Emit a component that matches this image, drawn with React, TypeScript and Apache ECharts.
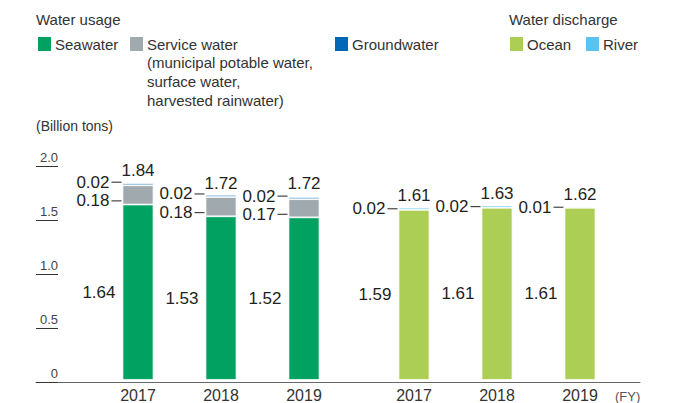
import React, { useEffect, useRef } from 'react';
import * as echarts from 'echarts';

const years = ['2017', '2018', '2019'];
const seawater = [1.64, 1.53, 1.52];
const serviceWater = [0.18, 0.18, 0.17];
const groundwater = [0.02, 0.02, 0.02];
const usageTotal = [1.84, 1.72, 1.72];
const ocean = [1.59, 1.61, 1.61];
const river = [0.02, 0.02, 0.01];
const dischargeTotal = [1.61, 1.63, 1.62];

const FONT = '"Liberation Sans", Arial, sans-serif';
const TXT = '#231F20';

const leaderLabel = (offsetY: number) => ({
  show: true,
  position: 'left' as const,
  distance: 1,
  offset: [0, offsetY],
  formatter: (p: any) => `{v|${p.value.toFixed(2)}}{g|}{l|}`,
  rich: {
    v: { fontSize: 17, color: TXT, fontFamily: FONT },
    g: { width: 2, height: 1 },
    l: { width: 10, height: 1, backgroundColor: '#231F20' },
  },
});

export default function App() {
  const ref = useRef<HTMLDivElement>(null);
  useEffect(() => {
    document.body.style.margin = '0';
    if (!ref.current) return;
    const chart = echarts.init(ref.current, undefined, { renderer: 'svg' });
    const hiddenY = (gi: number) => ({
      gridIndex: gi, type: 'value', min: 0, max: 2, show: false,
    });
    const catX = (gi: number) => ({
      gridIndex: gi,
      type: 'category',
      data: years,
      axisLine: { show: false },
      axisTick: { show: false },
      axisLabel: { fontSize: 16, color: '#333', margin: 7, fontFamily: FONT },
    });
    const mainLabel = {
      show: true, position: 'left' as const, distance: 7,
      fontSize: 17, color: TXT, fontFamily: FONT,
      formatter: (p: any) => p.value.toFixed(2),
    };
    const totalLabel = {
      show: true, position: 'top' as const, distance: 4,
      fontSize: 17, color: TXT, fontFamily: FONT,
      formatter: (p: any) => p.value.toFixed(2),
    };
    const border = { borderColor: '#ffffff', borderWidth: 0.8 };
    chart.setOption({
      animation: false,
      textStyle: { fontFamily: FONT },
      grid: [
        { left: 96.5, width: 249, top: 166, height: 216 },
        { left: 372.5, width: 249, top: 166, height: 216 },
        { left: 36, width: 604, top: 166, height: 216 },
      ],
      xAxis: [
        catX(0),
        catX(1),
        {
          gridIndex: 2, type: 'value', min: 0, max: 1,
          axisLine: { show: true, lineStyle: { color: '#666', width: 1 } },
          axisTick: { show: false }, axisLabel: { show: false }, splitLine: { show: false },
        },
      ],
      yAxis: [
        hiddenY(0),
        hiddenY(1),
        {
          gridIndex: 2, type: 'value', min: 0, max: 2, interval: 0.5,
          axisLine: { show: false },
          axisTick: { show: true, inside: true, length: 22, lineStyle: { color: '#333', width: 1 } },
          axisLabel: {
            inside: true, align: 'right', verticalAlign: 'bottom', margin: 22,
            fontSize: 13, color: '#444', padding: [0, 0, 2, 0], fontFamily: FONT,
            formatter: (v: number) => (v === 0 ? '0' : v.toFixed(1)),
          },
          splitLine: { show: false },
        },
      ],
      legend: [
        { data: ['Seawater'], left: 36, top: 35 },
        { data: ['Service water'], left: 128, top: 35 },
        { data: ['Groundwater'], left: 333, top: 35 },
        { data: ['Ocean'], left: 508, top: 35 },
        { data: ['River'], left: 584, top: 35 },
      ].map((l) => ({
        ...l, icon: 'rect', itemWidth: 15, itemHeight: 16, padding: 0,
        selectedMode: false,
        textStyle: { fontSize: 15, color: '#333', fontFamily: FONT, padding: [0, 0, 0, -2] },
      })),
      graphic: [
        { type: 'text', left: 36, top: 12, style: { text: 'Water usage', fontSize: 15, fill: '#333', fontFamily: FONT } },
        { type: 'text', left: 509, top: 12, style: { text: 'Water discharge', fontSize: 15, fill: '#333', fontFamily: FONT } },
        {
          type: 'text', left: 147, top: 53,
          style: { text: '(municipal potable water,\nsurface water,\nharvested rainwater)', fontSize: 15, lineHeight: 19, fill: '#333', fontFamily: FONT },
        },
        { type: 'text', left: 36, top: 119, style: { text: '(Billion tons)', fontSize: 14, fill: '#333', fontFamily: FONT } },
        { type: 'text', left: 615, top: 390, style: { text: '(FY)', fontSize: 13, fill: '#555', fontFamily: FONT } },
      ],
      series: [
        {
          name: 'Seawater', type: 'bar', xAxisIndex: 0, yAxisIndex: 0, stack: 'use', barWidth: 31,
          data: seawater, itemStyle: { color: '#00A161', ...border }, label: mainLabel,
        },
        {
          name: 'Service water', type: 'bar', xAxisIndex: 0, yAxisIndex: 0, stack: 'use', barWidth: 31,
          data: serviceWater, itemStyle: { color: '#9FA9AE', ...border }, label: leaderLabel(6),
        },
        {
          name: 'Groundwater', type: 'bar', xAxisIndex: 0, yAxisIndex: 0, stack: 'use', barWidth: 31,
          data: groundwater, itemStyle: { color: '#0068B6', ...border }, label: leaderLabel(-2),
        },
        {
          name: 'UsageTotal', type: 'bar', xAxisIndex: 0, yAxisIndex: 0, barWidth: 31, barGap: '-100%',
          data: usageTotal, silent: true, itemStyle: { color: 'rgba(0,0,0,0)' }, label: totalLabel,
        },
        {
          name: 'Ocean', type: 'bar', xAxisIndex: 1, yAxisIndex: 1, stack: 'dis', barWidth: 31,
          data: ocean, itemStyle: { color: '#ADCE55', ...border }, label: mainLabel,
        },
        {
          name: 'River', type: 'bar', xAxisIndex: 1, yAxisIndex: 1, stack: 'dis', barWidth: 31,
          data: river, itemStyle: { color: '#56C3F0', ...border }, label: leaderLabel(0),
        },
        {
          name: 'DischargeTotal', type: 'bar', xAxisIndex: 1, yAxisIndex: 1, barWidth: 31, barGap: '-100%',
          data: dischargeTotal, silent: true, itemStyle: { color: 'rgba(0,0,0,0)' }, label: totalLabel,
        },
      ],
    });
    return () => chart.dispose();
  }, []);
  return <div ref={ref} style={{ width: 678, height: 403 }} />;
}
